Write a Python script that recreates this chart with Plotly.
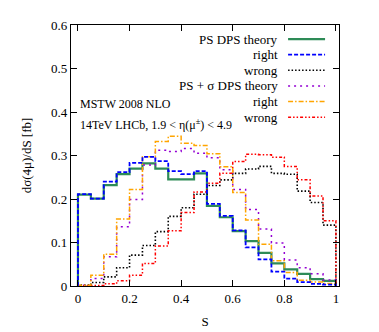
import plotly.graph_objects as go

# bin lower edges (width 0.05) and upper edge
bin_lo = [0.00, 0.05, 0.10, 0.15, 0.20, 0.25, 0.30, 0.35, 0.40, 0.45,
          0.50, 0.55, 0.60, 0.65, 0.70, 0.75, 0.80, 0.85, 0.90, 0.95]
bin_hi_last = 1.0

ps_theory = [0.210, 0.201, 0.232, 0.257, 0.270, 0.282, 0.270, 0.245, 0.245, 0.259,
             0.184, 0.158, 0.126, 0.103, 0.076, 0.052, 0.038, 0.028, 0.016, 0.012]
ps_right = [0.211, 0.201, 0.240, 0.262, 0.283, 0.297, 0.287, 0.264, 0.257, 0.264,
            0.189, 0.161, 0.128, 0.089, 0.061, 0.033, 0.017, 0.009, 0.005, 0.003]
ps_wrong = [0.002, 0.008, 0.021, 0.042, 0.071, 0.093, 0.125, 0.160, 0.180, 0.211,
            0.231, 0.244, 0.259, 0.269, 0.275, 0.259, 0.257, 0.218, 0.192, 0.140]
pss_theory = [0.002, 0.017, 0.067, 0.136, 0.199, 0.278, 0.312, 0.309, 0.316, 0.305,
              0.295, 0.267, 0.222, 0.176, 0.131, 0.099, 0.060, 0.042, 0.028, 0.014]
pss_right = [0.002, 0.025, 0.073, 0.154, 0.222, 0.297, 0.332, 0.344, 0.328, 0.323,
             0.304, 0.274, 0.215, 0.152, 0.096, 0.058, 0.031, 0.013, 0.009, 0.006]
pss_wrong = [0.000, 0.001, 0.005, 0.012, 0.025, 0.052, 0.092, 0.127, 0.169, 0.216,
             0.236, 0.259, 0.286, 0.303, 0.302, 0.296, 0.275, 0.244, 0.207, 0.150]

labels = ["PS DPS theory", "right", "wrong", "PS + σ DPS theory", "right", "wrong"]
series = [ps_theory, ps_right, ps_wrong, pss_theory, pss_right, pss_wrong]
colors = ["#2e8b57", "#0000ff", "#000000", "#9400d3", "#ffa500", "#ff0000"]
dashes = ["solid", "4px,2px", "1.5px,2px", "2px,4px", "5px,2px,1.5px,2px", "3px,2px,1.5px,2px,1.5px,2px"]
widths = [2.2, 1.8, 1.6, 1.5, 1.5, 1.5]

FONT = "Liberation Serif, Times New Roman, serif"

fig = go.Figure()
# draw in order so the solid green lies under the blue dashed
order = [0, 2, 3, 5, 4, 1]
for i in order:
    vals = series[i]
    xs = [bin_lo[0]] + bin_lo + [bin_hi_last, bin_hi_last]
    ys = [0] + vals + [vals[-1], 0]
    fig.add_trace(go.Scatter(
        x=xs, y=ys, mode="lines", line_shape="hv",
        line=dict(color=colors[i], dash=dashes[i], width=widths[i]),
        showlegend=False, hoverinfo="skip"))

# manual legend (text right, sample line right of text), gnuplot style
leg_top = 0.946
leg_step = 0.0598
for k in range(6):
    yk = leg_top - k * leg_step
    fig.add_annotation(x=0.78, y=yk, xref="paper", yref="paper",
                       text=labels[k], showarrow=False, xanchor="right",
                       yanchor="middle", font=dict(family=FONT, size=13, color="black"))
    fig.add_shape(type="line", xref="paper", yref="paper",
                  x0=0.81, x1=0.948, y0=yk, y1=yk,
                  line=dict(color=colors[k], dash=dashes[k], width=widths[k]))

fig.add_annotation(x=0.026, y=0.699, xref="paper", yref="paper", text="MSTW 2008 NLO",
                   showarrow=False, xanchor="left", yanchor="middle",
                   font=dict(family=FONT, size=12, color="black"))
fig.add_annotation(x=0.026, y=0.617, xref="paper", yref="paper",
                   text="14TeV LHCb, 1.9 < η(μ<sup>±</sup>) < 4.9",
                   showarrow=False, xanchor="left", yanchor="middle",
                   font=dict(family=FONT, size=12, color="black"))

axis_common = dict(showline=True, linecolor="black", linewidth=1.2, mirror="ticks",
                   ticks="inside", ticklen=6, tickcolor="black", showgrid=False,
                   zeroline=False, automargin=False,
                   tickfont=dict(family=FONT, size=13, color="black"))

# the page body adds an 8px offset, so the figure is 8px smaller on each axis
fig.update_layout(
    width=371, height=324,
    margin=dict(l=63, r=40, t=17, b=46),
    plot_bgcolor="white", paper_bgcolor="white",
    xaxis=dict(range=[-0.027, 1.012], tickvals=[0, 0.2, 0.4, 0.6, 0.8, 1],
               ticktext=["0", "0.2", "0.4", "0.6", "0.8", "1"],
               title=dict(text="S", font=dict(family=FONT, size=13, color="black"), standoff=12),
               **axis_common),
    yaxis=dict(range=[0, 0.6], tickvals=[0, 0.1, 0.2, 0.3, 0.4, 0.5, 0.6],
               ticktext=["0", "0.1", "0.2", "0.3", "0.4", "0.5", "0.6"],
               title=dict(text="dσ(4μ)/dS [fb]", font=dict(family=FONT, size=13, color="black"), standoff=16),
               **axis_common),
)

fig.write_html("out.html")
